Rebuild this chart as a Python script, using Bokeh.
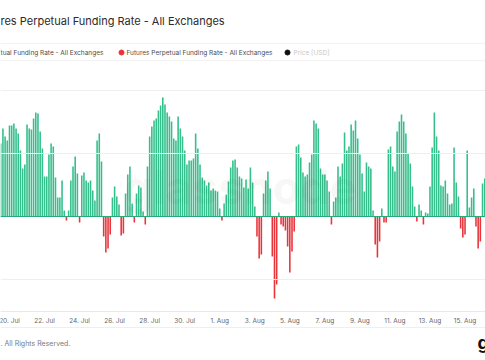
import pandas as pd
from bokeh.plotting import figure
from bokeh.models import Span, Range1d, ColumnDataSource
from bokeh.core.properties import value
from bokeh.embed import file_html
from bokeh.resources import INLINE

# ---------------- data ----------------
start_time = "2023-07-19 12:00"
step_hours = 3
# Futures perpetual funding rate - all exchanges (%), one value per 3 hours
funding_rate = [
    0.0073, 0.0088, 0.0080, 0.0076,                                  # 19 Jul
    0.0091, 0.0091, 0.0093, 0.0088, 0.0083, 0.0066, 0.0048, 0.0052,  # 20 Jul
    0.0092, 0.0088, 0.0087, 0.0098, 0.0104, 0.0103, 0.0085, 0.0068,  # 21 Jul
    0.0040, 0.0040, 0.0062, 0.0073, 0.0070, 0.0039, 0.0019, 0.0019,  # 22 Jul
    0.0036, 0.0006, -0.0004, 0.0006, 0.0036, 0.0050, 0.0060, 0.0043, # 23 Jul
    -0.0006, 0.0041, 0.0044, 0.0036, 0.0034, 0.0036, 0.0026, 0.0016, # 24 Jul
    0.0076, 0.0083, 0.0055, -0.0020, -0.0036, -0.0032, -0.0018, 0.0019,  # 25 Jul
    0.0030, 0.0020, 0.0012, -0.0019, -0.0017, 0.0023, 0.0042, 0.0050,    # 26 Jul
    0.0013, -0.0006, 0.0023, 0.0031, 0.0029, 0.0005, -0.0008, 0.0050,    # 27 Jul
    0.0080, 0.0090, 0.0096, 0.0098, 0.0106, 0.0111, 0.0119, 0.0112,  # 28 Jul
    0.0104, 0.0100, 0.0095, 0.0078, 0.0076, 0.0100, 0.0088, 0.0080,  # 29 Jul
    0.0066, 0.0052, 0.0056, 0.0056, 0.0058, 0.0083, 0.0068, 0.0052,  # 30 Jul
    0.0039, 0.0036, 0.0031, 0.0034, 0.0026, 0.0028, 0.0026, 0.0025,  # 31 Jul
    0.0008, -0.0004, 0.0013, 0.0022, 0.0035, 0.0049, 0.0056, 0.0057, # 1 Aug
    0.0049, 0.0040, 0.0038, 0.0029, 0.0037, 0.0028, 0.0049, 0.0034,  # 2 Aug
    0.0010, -0.0020, -0.0042, -0.0038, 0.0023, 0.0036, 0.0045, 0.0028,   # 3 Aug
    -0.0040, -0.0082, -0.0068, 0.0004, -0.0008, -0.0010, -0.0014, -0.0030,  # 4 Aug
    -0.0056, -0.0035, -0.0015, 0.0070, 0.0072, 0.0059, 0.0044, 0.0040,   # 5 Aug
    0.0042, 0.0054, 0.0062, 0.0096, 0.0093, 0.0088, 0.0048, 0.0042,  # 6 Aug
    0.0042, 0.0036, 0.0025, -0.0008, 0.0015, 0.0019, 0.0050, 0.0040, # 7 Aug
    0.0053, 0.0084, 0.0066, 0.0070, 0.0092, 0.0086, 0.0096, 0.0078,  # 8 Aug
    0.0062, 0.0043, 0.0025, 0.0054, 0.0050, 0.0048, 0.0006, -0.0028, # 9 Aug
    -0.0041, -0.0025, 0.0008, -0.0006, -0.0006, 0.0067, 0.0070, 0.0050,  # 10 Aug
    0.0045, 0.0085, 0.0095, 0.0102, 0.0095, 0.0083, 0.0063, 0.0053,  # 11 Aug
    0.0030, 0.0010, -0.0005, 0.0012, 0.0006, -0.0008, 0.0004, 0.0003,    # 12 Aug
    0.0030, 0.0069, 0.0104, 0.0080, 0.0066, 0.0031, 0.0030, 0.0036,  # 13 Aug
    0.0023, 0.0012, 0.0013, 0.0069, 0.0034, 0.0020, -0.0012, -0.0021,    # 14 Aug
    -0.0018, 0.0066, 0.0009, 0.0019, 0.0028, -0.0010, -0.0032, -0.0025, # 15 Aug
    0.0033, 0.0038,                                                  # 16 Aug
]
grid_values = [0.0126, 0.0063, 0.0, -0.0063]
tick_dates = ["2023-07-20", "2023-07-22", "2023-07-24", "2023-07-26", "2023-07-28",
              "2023-07-30", "2023-08-01", "2023-08-03", "2023-08-05", "2023-08-07",
              "2023-08-09", "2023-08-11", "2023-08-13", "2023-08-15"]
tick_labels = ["20. Jul", "22. Jul", "24. Jul", "26. Jul", "28. Jul", "30. Jul",
               "1. Aug", "3. Aug", "5. Aug", "7. Aug", "9. Aug", "11. Aug",
               "13. Aug", "15. Aug"]

# ---------------- layout helpers ----------------
W, H = 485, 360
EPOCH = pd.Timestamp("1970-01-01")
DAY0 = pd.Timestamp("2023-07-19")
PX_PER_DAY = 17.52
ORIGIN_PX = -8.52       # screen x of DAY0
ZERO_PY = 216           # screen y of 0 %
UNIT_PER_PX = 0.0001
AXIS_PY = 311

def ms(ts):
    return (pd.Timestamp(ts) - EPOCH) / pd.Timedelta(milliseconds=1)

def px_x(px):
    return ms(DAY0 + pd.Timedelta(days=(px - ORIGIN_PX) / PX_PER_DAY))

def py_y(py):
    return (ZERO_PY - py) * UNIT_PER_PX

GREEN = "#34bf8c"
RED = "#e8353c"
FONT = "Inter"

times = pd.date_range(start_time, periods=len(funding_rate), freq=f"{step_hours}h")
src = ColumnDataSource(dict(
    x=[ms(t) for t in times],
    top=funding_rate,
    color=[GREEN if v >= 0 else RED for v in funding_rate],
))

p = figure(width=W, height=H, x_axis_type="datetime",
           x_axis_location=None, y_axis_location=None,
           x_range=Range1d(px_x(0), px_x(W)),
           y_range=Range1d(py_y(H), py_y(0)),
           output_backend="svg", toolbar_location=None,
           min_border=0,
           background_fill_color="white", border_fill_color="white")
p.outline_line_color = None
p.grid.visible = False

for gv in grid_values:
    p.add_layout(Span(location=gv, dimension="width", line_color="#efefef", line_width=1))

bar_w = step_hours * 3600 * 1000 * 0.72
p.vbar(x="x", top="top", bottom=0, width=bar_w, source=src,
       fill_color="color", line_color=None, fill_alpha=1.0)
p.add_layout(Span(location=0, dimension="width", line_color="#2aa97a", line_width=1.2))

# watermark
p.text(x=[px_x(240)], y=[py_y(186)], text=["glassnode"], text_font=value(FONT),
       text_font_size=value("46px"), text_font_style="bold", text_color="#000000",
       text_alpha=0.05, text_align="center", text_baseline="middle")

# x axis (line + date labels placed on the datetime scale)
p.add_layout(Span(location=py_y(AXIS_PY), dimension="width", line_color="#e8e8e8", line_width=1))
p.add_layout(Span(location=py_y(327), dimension="width", line_color="#efefef", line_width=1))
p.text(x=[ms(t) for t in tick_dates], y=[py_y(320)] * len(tick_dates), text=tick_labels,
       text_font=value(FONT), text_font_size=value("6.5px"), text_color="#666666",
       text_align="center", text_baseline="middle")

# title & legend row
p.text(x=[px_x(0)], y=[py_y(20)], text=["res Perpetual Funding Rate - All Exchanges"],
       text_font=value(FONT), text_font_size=value("11px"), text_color="#2b2b2b",
       text_baseline="middle")
for yy in (43, 60):
    p.add_layout(Span(location=py_y(yy), dimension="width", line_color="#f2f2f2", line_width=1))
p.text(x=[px_x(0), px_x(126)], y=[py_y(52), py_y(52)],
       text=["tual Funding Rate - All Exchanges", "Futures Perpetual Funding Rate - All Exchanges"],
       text_font=value(FONT), text_font_size=value("6.5px"), text_color="#4d4d4d",
       text_baseline="middle")
p.scatter(x=[px_x(121)], y=[py_y(52)], size=5, color=RED)
p.scatter(x=[px_x(287)], y=[py_y(52)], size=5, color="#111111")
p.text(x=[px_x(293)], y=[py_y(52)], text=["Price [USD]"], text_font=value(FONT),
       text_font_size=value("6.5px"), text_color="#c8c8c8", text_baseline="middle")

# footer
p.text(x=[px_x(0)], y=[py_y(343)], text=[". All Rights Reserved."], text_font=value(FONT),
       text_font_size=value("7px"), text_color="#7a7a7a", text_baseline="middle")
p.text(x=[px_x(477)], y=[py_y(342)], text=["g"], text_font=value(FONT),
       text_font_size=value("18px"), text_font_style="bold", text_color="#111111",
       text_baseline="middle")

open("out.html", "w").write(file_html(p, INLINE))
